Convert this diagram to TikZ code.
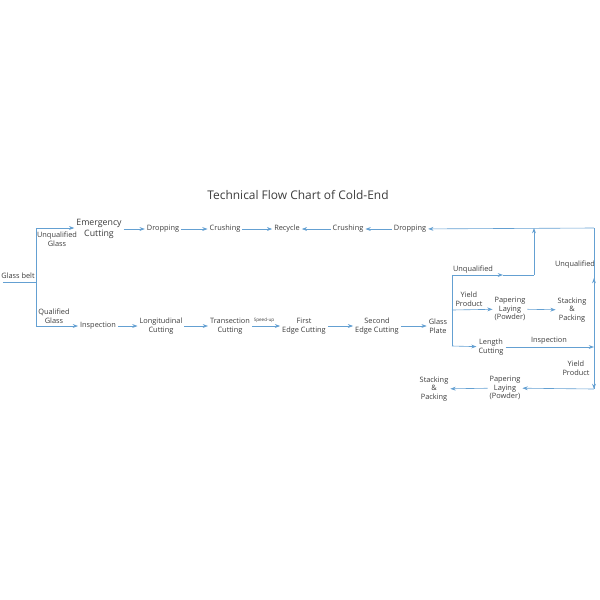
\documentclass[tikz,border=0pt]{standalone}
\usepackage{fontspec}
\setmainfont{Open Sans}
\usetikzlibrary{arrows.meta}
\definecolor{ln}{RGB}{100,160,210}
\definecolor{tx}{RGB}{60,60,60}
\begin{document}
\begin{tikzpicture}[x=0.02cm,y=-0.02cm,
 t/.style={text=tx,font=\fontsize{4.2}{5}\selectfont,align=center,inner sep=1pt},
 l/.style={draw=ln,line width=0.35pt},
 a/.style={l,-{Stealth[length=3pt,width=2.2pt]}}]
\useasboundingbox (0,0) rectangle (600,600);
\node[text=tx,font=\fontsize{6.8}{8}\selectfont] (title) at (298,195) {Technical Flow Chart of Cold-End};
\node[t] (gb) at (18,276) {Glass belt};
\coordinate (g0) at (3,282); \coordinate (g1) at (36,282);
\coordinate (ut) at (36,228); \coordinate (qb) at (36,326);
\node[t] (ug) at (57,239) {Unqualified\\Glass};
\node[t] (qg) at (54,316) {Qualified\\Glass};
\node[t,font=\fontsize{5}{6}\selectfont] (ec) at (99,229) {Emergency\\Cutting};
\node[t] (d1) at (163,229) {Dropping};
\node[t] (c1) at (225,229) {Crushing};
\node[t] (rc) at (287,229) {Recycle};
\node[t] (c2) at (348,229) {Crushing};
\node[t] (d2) at (410,229) {Dropping};
\node[t] (in) at (98,326) {Inspection};
\node[t] (lc) at (161,326) {Longitudinal\\Cutting};
\node[t] (tc) at (230,326) {Transection\\Cutting};
\node[t,font=\fontsize{2.6}{3}\selectfont] (su) at (264,320) {Speed-up};
\node[t] (fe) at (304,326) {First\\Edge Cutting};
\node[t] (se) at (377,326) {Second\\Edge Cutting};
\node[t] (gp) at (438,326) {Glass\\Plate};
\coordinate (v0) at (452,275); \coordinate (v1) at (452,310); \coordinate (v2) at (452,346);
\coordinate (ua) at (503,275); \coordinate (uc) at (534,275); \coordinate (ut2) at (534,228);
\node[t] (uq) at (473,270) {Unqualified};
\node[t] (yp) at (469,299) {Yield\\Product};
\node[t] (pl) at (510,309) {Papering\\Laying\\(Powder)};
\node[t] (sp) at (572,310) {Stacking\\\&\\Packing};
\node[t] (lg) at (491,347) {Length\\Cutting};
\node[t] (ins) at (549,341) {Inspection};
\coordinate (r0) at (594,228); \coordinate (r1) at (594,347); \coordinate (r2) at (594,389);
\coordinate (rm) at (594,278);
\node[t] (uq2) at (575,265) {Unqualified};
\node[t] (yp2) at (576,368) {Yield\\Product};
\node[t] (pl2) at (505,388) {Papering\\Laying\\(Powder)};
\node[t] (sp2) at (434,389) {Stacking\\\&\\Packing};
% left
\draw[l] (g0) -- (g1);
\draw[l] (ut) -- (qb);
\draw[a] (ut) -- (ec.west|-ut);
\draw[a] (qb) -- (in);
\draw[a] (ec.east|-d1) -- (d1);
\draw[a] (d1) -- (c1);
\draw[a] (c1) -- (rc);
\draw[a] (c2) -- (rc);
\draw[a] (d2) -- (c2);
\draw[a] (r0) -- (d2);
\draw[a] (in) -- (lc);
\draw[a] (lc) -- (tc);
\draw[a] (tc) -- (fe);
\draw[a] (fe) -- (se);
\draw[a] (se) -- (gp);
% right
\draw[l] (v0) -- (v2);
\draw[a] (v0) -- (ua);
\draw[l] (ua) -- (uc);
\draw[a] (uc) -- (ut2);
\draw[a] (v1) -- (pl);
\draw[a] (pl) -- (sp);
\draw[a] (v2) -- (lg);
\draw[a] (lg) -- (r1);
\draw[l] (r0) -- (r2);
\draw[a] (r1) -- (rm);
\draw[a] (r1) -- (r2);
\draw[a] (r2) -- (pl2);
\draw[a] (pl2) -- (sp2);
\end{tikzpicture}
\end{document}
